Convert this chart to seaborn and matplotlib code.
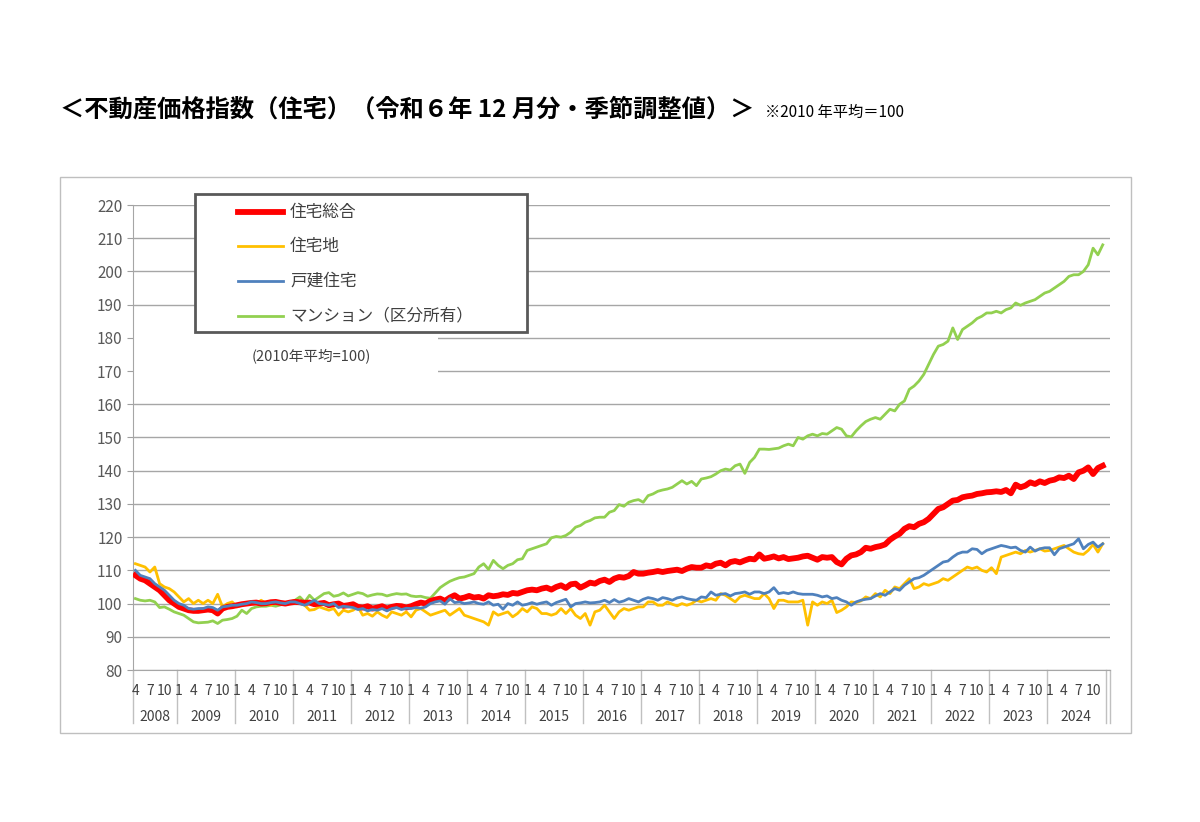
import matplotlib
matplotlib.use("Agg")
import matplotlib.pyplot as plt
import matplotlib.transforms as mtransforms
from matplotlib.patches import Rectangle
from matplotlib.lines import Line2D
import seaborn as sns
import pandas as pd

plt.rcParams["font.family"] = ["Noto Sans CJK JP", "DejaVu Sans"]

years = list(range(2008, 2025))
month_ticks = [1, 4, 7, 10]
series_names = ["住宅総合", "住宅地", "戸建住宅", "マンション（区分所有）"]

sogo = [
    108.5,107.5,107,106,105,104,102.5,101,100,
    99,98.5,98,97.8,97.8,98,98.2,98,97,98.5,99,99.2,
    99.5,99.8,100,100.2,100.3,100,100.1,100.4,100.5,100.2,100,100.3,
    100.5,100.4,100.2,100.3,99.8,100,100.2,99.5,99.8,100,99.3,99.5,
    99.8,99,98.8,99.2,98.5,98.8,99.2,98.5,99,99.3,99.2,98.8,
    99.2,99.8,100.3,100,100.8,101.2,101.5,100.8,101.8,102.5,101.5,101.8,
    102.3,101.8,102,101.5,102.5,102.2,102.4,102.8,102.6,103.2,103,103.5,
    104,104.2,104,104.5,104.8,104.2,105,105.5,104.7,105.8,106,104.8,
    105.5,106.3,106,106.8,107.2,106.5,107.5,108,107.8,108.3,109.5,109,
    109,109.3,109.5,109.8,109.5,109.8,110,110.2,109.8,110.5,111,110.8,
    110.8,111.5,111.2,112,112.3,111.5,112.5,112.8,112.4,113,113.5,113.3,
    114.8,113.5,113.8,114.2,113.6,114,113.4,113.6,113.8,114.2,114.4,113.8,
    113.2,114,113.8,114,112.5,111.8,113.5,114.5,114.8,115.5,116.8,116.5,
    117,117.3,117.8,119.2,120.2,121,122.5,123.3,123,124,124.5,125.5,
    127,128.5,129,130,131,131.2,132,132.3,132.5,133,133.2,133.5,
    133.6,133.8,133.6,134.2,133.2,135.8,135,135.5,136.5,136,136.8,136.3,
    137,137.3,138,137.8,138.5,137.5,139.5,140,141,139,140.8,141.5,
]
takuchi = [
    112,111.5,111,109.5,111,106,105,104.5,103.5,
    102,100.5,101.5,100,101,100,101,100,102.8,99,100,100.5,
    99,99.5,100,100.5,100,101,100,99.5,100.5,100,100.2,100,
    100,100.2,99.5,98,98.2,99,98.5,98,98.5,96.5,98,97.5,
    98,99,96.5,97,96.2,97.5,96.5,95.8,97.5,97,96.5,97.5,
    96,98,98.5,97.5,96.5,97,97.5,98,96.5,97.5,98.5,96.5,
    96,95.5,95,94.5,93.5,97.5,96.5,97,97.5,96,97,98.5,
    97.5,99,98.5,97,97,96.5,97,98.5,97,98.5,96.5,95.5,
    97,93.5,97.5,98,99.5,97.5,95.5,97.5,98.5,98,98.5,99,
    99,100.5,100.5,99.5,99.5,100.5,99.8,99.3,100,99.5,100,101,
    100.5,101,101.5,101,103,102.5,101.5,100.5,102,102.5,102,101.5,
    101.5,103,101.5,98.5,101,101,100.5,100.5,100.5,101,93.5,100.5,
    99.5,100.5,100,101,97.3,98,99,100.5,100.3,100.8,102,101.5,
    103,102,104,103,105,104.5,106,107.5,104.5,105,106,105.5,
    106,106.5,107.5,107,108,109,110,111,110.5,111,110,109.5,
    110.8,109,114,114.5,115,115.5,115,116,115.5,116,116.5,115.8,
    116,116.5,117,117.5,116.5,115.5,115,114.8,116,117.8,115.5,118,
]
kodate = [
    110,108.5,108,107.5,106,105,104,102.5,101,
    100,99.5,98.5,98.3,98.5,98.5,99,98.8,98,99,99.2,99.5,
    99.5,99.8,100,100.5,100.3,100,100,100.3,100.5,100.2,100,100.5,
    100.5,100,99.5,100.2,101,100,99.8,99.5,100,98.8,99.2,99,
    98.8,98.2,98.5,97.8,98.2,98,98.5,97.8,98.5,98.8,98.2,98.6,
    98.5,98.8,98.6,99,100,100.5,100.8,99.8,101.5,100.3,100.5,100,
    100.2,100.5,100,99.8,100.5,99.5,99.8,98.3,100,99.5,100.5,99.5,
    99.8,100.3,99.8,100.2,100.5,99.5,100.3,100.8,101.3,99,100,100.2,
    100.5,100.2,100.3,100.5,101,100.3,101.2,100.4,100.8,101.5,101,100.5,
    101.3,101.8,101.5,101,101.8,101.5,101,101.7,102,101.5,101.2,101,
    102,101.8,103.5,102.5,102.8,103,102.3,103,103.2,103.5,102.8,103.5,
    103.5,103,103.5,104.8,103,103.3,103,103.5,103,102.8,102.8,102.8,
    102.5,102,102.3,101.5,101.8,101,100.5,99.5,100.5,101,101.3,101.5,
    102.3,103,102.5,103.5,104.5,104,105.5,106.5,107.5,107.8,108.5,109.5,
    110.5,111.5,112.5,112.8,114,115,115.5,115.5,116.5,116.3,115,116,
    116.5,117,117.5,117.2,116.8,117,116,115.5,117,115.8,116.5,116.8,
    116.8,114.7,116.5,117,117.5,118,119.5,116.5,117.8,118.5,117,118,
]
mansion = [
    101.5,101,100.8,101,100.5,98.8,99,98.3,97.5,
    97,96.5,95.5,94.5,94.2,94.3,94.4,94.8,94,95,95.2,95.5,
    96.2,98,97,98.5,99,99.2,99.2,99.5,99.2,99.6,100,100.5,
    101,102,100.5,102.5,101,102,103,103.3,102.2,102.5,103.2,102.3,
    102.8,103.3,103,102.2,102.6,102.9,102.8,102.3,102.7,103,102.8,102.9,
    102.3,102.1,102.2,101.8,101.6,103.2,104.8,105.8,106.7,107.3,107.8,108,
    108.5,109,111,112,110.3,113,111.5,110.5,111.5,112,113.2,113.5,
    116,116.5,117,117.5,118,119.8,120.2,120,120.5,121.5,123,123.5,
    124.5,125,125.8,126,126,127.5,128,129.8,129.3,130.5,131,131.3,
    130.5,132.5,133,133.8,134.2,134.5,135,136,137,136,136.8,135.5,
    137.5,137.8,138.2,139,140,140.5,140.2,141.5,142,139.2,142.5,144,
    146.5,146.5,146.4,146.6,146.8,147.5,148,147.5,150,149.5,150.5,151,
    150.5,151.2,151,152,153,152.5,150.5,150.2,152,153.5,154.8,155.5,
    156,155.5,157,158.5,158,160,161,164.5,165.5,167,169,172,
    175,177.5,178,179,183,179.5,182.5,183.5,184.5,185.8,186.5,187.5,
    187.5,188,187.5,188.5,189,190.5,189.8,190.5,191,191.5,192.5,193.5,
    194,195,196,197,198.5,199,199,200,202,207,205,208,
]

cal = [(2008, m) for m in range(4, 13)] + [(y, m) for y in range(2009, 2025) for m in range(1, 13)]
idx = list(range(len(cal)))

df = pd.DataFrame({"t": idx * 4,
                   "v": mansion + takuchi + sogo + kodate,
                   "s": [series_names[3]] * len(idx) + [series_names[1]] * len(idx)
                        + [series_names[0]] * len(idx) + [series_names[2]] * len(idx)})

colors = {"住宅総合": "#FF0000", "住宅地": "#FFC000", "戸建住宅": "#4F81BD", "マンション（区分所有）": "#92D050"}
widths = {"住宅総合": 4.2, "住宅地": 2.0, "戸建住宅": 2.0, "マンション（区分所有）": 2.0}

fig = plt.figure(figsize=(12, 8.22), dpi=100)
fig.patches.append(Rectangle((60/1200, 1-733/822), (1131-60)/1200, (733-177)/822,
                             transform=fig.transFigure, fill=False, edgecolor="#bfbfbf", lw=1))
ax = fig.add_axes([133/1200, 1-670/822, (1110-133)/1200, (670-205)/822])

for name in ["マンション（区分所有）", "住宅地", "住宅総合", "戸建住宅"]:
    sub = df[df["s"] == name]
    sns.lineplot(data=sub, x="t", y="v", ax=ax, color=colors[name], lw=widths[name],
                 legend=False, zorder=3)

ax.set_xlim(-0.5, 201.5)
ax.set_ylim(80, 220)
ax.set_yticks(range(80, 221, 10))
ax.tick_params(axis="y", labelsize=11, colors="#595959", length=4, color="#a0a0a0")
ax.tick_params(axis="x", length=0, labelbottom=False)
ax.grid(axis="y", color="#a6a6a6", lw=1)
ax.set_axisbelow(True)
for s in ["top", "right"]:
    ax.spines[s].set_visible(False)
ax.spines["left"].set_color("#a6a6a6")
ax.spines["bottom"].set_color("#a6a6a6")
ax.set_xlabel("")
ax.set_ylabel("")

ax.add_patch(Rectangle((-0.5, 168.5), 63, 13.5, facecolor="white", edgecolor="none", zorder=2))
ax.text(24, 174.5, "(2010年平均=100)", fontsize=10.5, color="#404040", zorder=4, va="center")

trans = mtransforms.blended_transform_factory(ax.transData, ax.transAxes)
for i, (y, m) in enumerate(cal):
    if m in month_ticks:
        ax.text(i, -0.045, str(m), transform=trans, ha="center", va="center",
                fontsize=10, color="#404040")
for y in years:
    pos = [i for i, (yy, m) in enumerate(cal) if yy == y]
    ax.text((pos[0] + pos[-1]) / 2, -0.1, str(y), transform=trans, ha="center", va="center",
            fontsize=10, color="#404040")
    ax.plot([pos[0] - 0.5] * 2, [0, -0.115], transform=trans, color="#c0c0c0", lw=1, clip_on=False)
for xe in [200.7, 201.5]:
    ax.plot([xe] * 2, [0, -0.115], transform=trans, color="#c0c0c0", lw=1, clip_on=False)

# manual legend box
ft = fig.transFigure
fig.patches.append(Rectangle((195/1200, 1-332/822), (527-195)/1200, (332-194)/822,
                             transform=ft, facecolor="white", edgecolor="#595959", lw=2, zorder=5))
for k, (n, yy) in enumerate(zip(series_names, [212, 246, 281, 316])):
    fig.lines.append(Line2D([238/1200, 283/1200], [1-yy/822] * 2, transform=ft,
                            color=colors[n], lw=widths[n], zorder=6))
    fig.text(290/1200, 1-yy/822, n, fontsize=12, color="#404040", va="center", zorder=6)

fig.text(60/1200, 1-110/822, "＜不動産価格指数（住宅）（令和６年 12 月分・季節調整値）＞",
         fontsize=17.5, fontweight="bold", va="center", ha="left")
fig.text(765/1200, 1-112/822, "※2010 年平均＝100", fontsize=11, va="center", ha="left")

fig.savefig("out.png", dpi=100)
